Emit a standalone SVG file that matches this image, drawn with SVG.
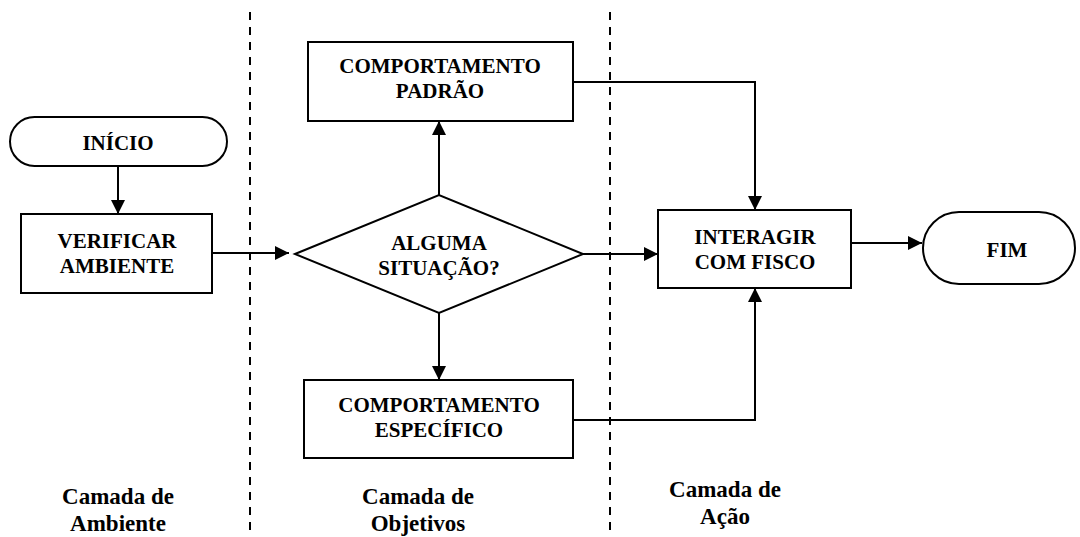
<svg xmlns="http://www.w3.org/2000/svg" width="1080" height="537" viewBox="0 0 1080 537">
<defs>
<marker id="ah" viewBox="0 0 10 10" refX="10" refY="5" markerWidth="14" markerHeight="14" markerUnits="userSpaceOnUse" orient="auto">
<path d="M0,0 L10,5 L0,10 Z" fill="#000"/>
</marker>
<style>
.s{fill:#fff;stroke:#000;stroke-width:2}
text{font-family:'Liberation Serif','DejaVu Serif',serif;font-weight:bold;text-anchor:middle;fill:#000}
.t{font-size:21px}
.l{font-size:23px}
.c{fill:none;stroke:#000;stroke-width:2}
.d{stroke:#000;stroke-width:2;stroke-dasharray:8,7}
</style>
</defs>
<rect width="1080" height="537" fill="#fff"/>
<g id="dividers">
<line class="d" x1="250" y1="12" x2="250" y2="537"/>
<line class="d" x1="610" y1="12" x2="610" y2="537"/>
</g>
<g id="connectors">
<line class="c" x1="118" y1="166" x2="118" y2="214" marker-end="url(#ah)"/>
<line class="c" x1="213" y1="253" x2="289" y2="253" marker-end="url(#ah)"/>
<line class="c" x1="439" y1="195" x2="439" y2="121" marker-end="url(#ah)"/>
<line class="c" x1="439" y1="313" x2="439" y2="380" marker-end="url(#ah)"/>
<line class="c" x1="583" y1="254" x2="658" y2="254" marker-end="url(#ah)"/>
<polyline class="c" points="573,82 755,82 755,210" marker-end="url(#ah)"/>
<polyline class="c" points="573,420 755,420 755,288" marker-end="url(#ah)"/>
<line class="c" x1="851" y1="243" x2="922" y2="243" marker-end="url(#ah)"/>
</g>
<g id="inicio">
<rect class="s" x="10" y="117" width="217" height="49" rx="24.5"/>
<text class="t" x="118" y="150">INÍCIO</text>
</g>
<g id="verificar">
<rect class="s" x="21" y="214" width="191" height="79"/>
<text class="t" x="117" y="248">VERIFICAR</text>
<text class="t" x="117" y="273">AMBIENTE</text>
</g>
<g id="decisao">
<polygon class="s" points="295,254 439,195 583,254 439,313"/>
<text class="t" x="439" y="250">ALGUMA</text>
<text class="t" x="439" y="275">SITUAÇÃO?</text>
</g>
<g id="padrao">
<rect class="s" x="308" y="42" width="265" height="79"/>
<text class="t" x="440" y="73">COMPORTAMENTO</text>
<text class="t" x="440" y="98">PADRÃO</text>
</g>
<g id="especifico">
<rect class="s" x="304" y="380" width="269" height="78"/>
<text class="t" x="439" y="412">COMPORTAMENTO</text>
<text class="t" x="439" y="437">ESPECÍFICO</text>
</g>
<g id="interagir">
<rect class="s" x="658" y="210" width="193" height="78"/>
<text class="t" x="755" y="244">INTERAGIR</text>
<text class="t" x="755" y="269">COM FISCO</text>
</g>
<g id="fim">
<rect class="s" x="923" y="212" width="152" height="72" rx="36"/>
<text class="t" x="1007" y="257">FIM</text>
</g>
<g id="labels">
<text class="l" x="118" y="504">Camada de</text>
<text class="l" x="118" y="531">Ambiente</text>
<text class="l" x="418" y="504">Camada de</text>
<text class="l" x="418" y="531">Objetivos</text>
<text class="l" x="725" y="497">Camada de</text>
<text class="l" x="725" y="524">Ação</text>
</g>
</svg>
